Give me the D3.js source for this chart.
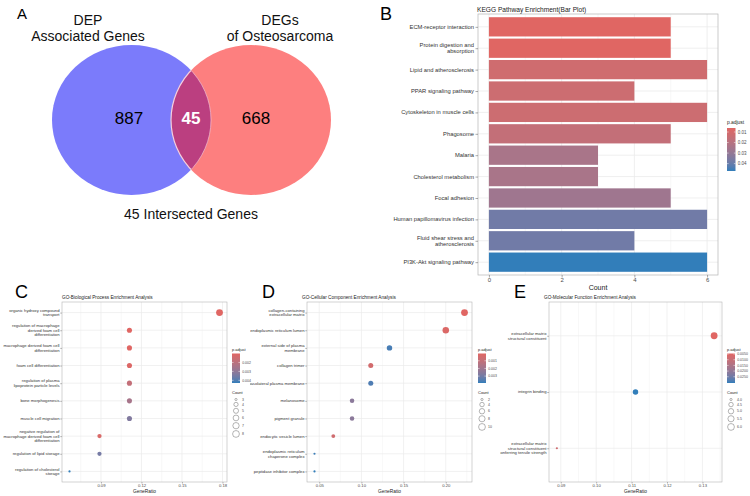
<!DOCTYPE html>
<html>
<head>
<meta charset="utf-8">
<script src="https://cdn.jsdelivr.net/npm/d3@7"></script>
<style>
  body { margin: 0; background: #fff; }
  svg text { font-family: "Liberation Sans", Arial, sans-serif; }
</style>
</head>
<body>
<svg id="fig" width="750" height="496"></svg>
<script>
/* ---------- data ---------- */
// Venn
var vennSets = ["DEP\nAssociated Genes", "DEGs\nof Osteosarcoma"];
var vennCounts = [887, 45, 668];
var vennCaption = "45 Intersected Genes";

// KEGG bar plot
var keggTerms = ["ECM-receptor interaction", "Protein digestion and\nabsorption", "Lipid and atherosclerosis",
  "PPAR signaling pathway", "Cytoskeleton in muscle cells", "Phagosome", "Malaria", "Cholesterol metabolism",
  "Focal adhesion", "Human papillomavirus infection", "Fluid shear stress and\natherosclerosis", "PI3K-Akt signaling pathway"];
var keggCount = [5, 5, 6, 4, 6, 5, 3, 3, 5, 6, 4, 6];
var keggPadj = [0.0062, 0.0063, 0.012, 0.013, 0.013, 0.016, 0.024, 0.024, 0.027, 0.038, 0.038, 0.047];
var keggTicks = [0, 2, 4, 6];
var keggLegendTicks = [0.01, 0.02, 0.03, 0.04];

// GO BP
var bpTerms = ["organic hydroxy compound\ntransport", "regulation of macrophage\nderived foam cell\ndifferentiation",
  "macrophage derived foam cell\ndifferentiation", "foam cell differentiation",
  "regulation of plasma\nlipoprotein particle levels", "bone morphogenesis", "muscle cell migration",
  "negative regulation of\nmacrophage derived foam cell\ndifferentiation", "regulation of lipid storage",
  "regulation of cholesterol\nstorage"];
var bpRatio = [0.1778, 0.1111, 0.1111, 0.1111, 0.1111, 0.1111, 0.1111, 0.0889, 0.0889, 0.0667];
var bpCount = [8, 5, 5, 5, 5, 5, 5, 4, 4, 3];
var bpPadj = [0.0010, 0.0010, 0.0010, 0.0011, 0.0018, 0.0025, 0.0033, 0.0012, 0.0035, 0.0043];
var bpTicks = [0.09, 0.12, 0.15, 0.18];
var bpLegendTicks = [0.002, 0.003, 0.004];
var bpCountBreaks = [3, 4, 5, 6, 7, 8];

// GO CC
var ccTerms = ["collagen-containing\nextracellular matrix", "endoplasmic reticulum lumen",
  "external side of plasma\nmembrane", "collagen trimer", "basolateral plasma membrane", "melanosome",
  "pigment granule", "endocytic vesicle lumen", "endoplasmic reticulum\nchaperone complex",
  "peptidase inhibitor complex"];
var ccRatio = [0.2222, 0.2000, 0.1333, 0.1111, 0.1111, 0.0889, 0.0889, 0.0667, 0.0444, 0.0444];
var ccCount = [10, 9, 6, 5, 5, 4, 4, 3, 2, 2];
var ccPadj = [0.00005, 0.0002, 0.0037, 0.0005, 0.0036, 0.0025, 0.0025, 0.0006, 0.0038, 0.0039];
var ccTicks = [0.05, 0.10, 0.15, 0.20];
var ccLegendTicks = [0.001, 0.002, 0.003];
var ccCountBreaks = [2, 4, 6, 8, 10];

// GO MF
var mfTerms = ["extracellular matrix\nstructural constituent", "integrin binding",
  "extracellular matrix\nstructural constituent\nconferring tensile strength"];
var mfRatio = [0.1333, 0.1111, 0.0889];
var mfCount = [6, 5, 4];
var mfPadj = [0.0045, 0.0305, 0.0085];
var mfTicks = [0.09, 0.10, 0.11, 0.12, 0.13];
var mfLegendTicks = [0.005, 0.010, 0.015, 0.020, 0.025];
var mfCountBreaks = [4.0, 4.5, 5.0, 5.5, 6.0];

/* ---------- common ---------- */
var svg = d3.select("#fig");
var defs = svg.append("defs");
var LOW = "#e06663", HIGH = "#327eba";
var gridCol = "#ebebeb", borderCol = "#b5b5b5", tickCol = "#555", labCol = "#4d4d4d";

function multiText(g, str, x, y, size, lh, anchor, fill, weight) {
  var lines = str.split("\n");
  var t = g.append("text").attr("x", x).attr("y", y)
    .attr("font-size", size).attr("text-anchor", anchor || "start")
    .attr("fill", fill || "#000");
  if (weight) t.attr("font-weight", weight);
  var off = -(lines.length - 1) * lh / 2 + size * 0.35;
  lines.forEach(function(l, i) {
    t.append("tspan").attr("x", x).attr("dy", i === 0 ? off : lh).text(l);
  });
  return t;
}

function panelLabel(txt, x, y) {
  svg.append("text").attr("x", x).attr("y", y).attr("font-size", 18).text(txt);
}

var gradN = 0;
function colorbar(color, dom, ticks, fmt, x, y0, y1, w, titleY, fs) {
  var id = "grad" + (gradN++);
  var grad = defs.append("linearGradient").attr("id", id)
    .attr("x1", 0).attr("x2", 0).attr("y1", 0).attr("y2", 1);
  d3.range(0, 1.0001, 0.1).forEach(function(f) {
    grad.append("stop").attr("offset", f).attr("stop-color", color(dom[0] + f * (dom[1] - dom[0])));
  });
  svg.append("text").attr("x", x).attr("y", titleY).attr("font-size", fs + 0.4).attr("fill", "#222").text("p.adjust");
  svg.append("rect").attr("x", x).attr("y", y0).attr("width", w).attr("height", y1 - y0).attr("fill", "url(#" + id + ")");
  var ys = d3.scaleLinear().domain(dom).range([y0, y1]);
  ticks.forEach(function(t) {
    var yy = ys(t);
    svg.append("line").attr("x1", x).attr("x2", x + 1.6).attr("y1", yy).attr("y2", yy).attr("stroke", "#fff").attr("stroke-width", 0.5);
    svg.append("line").attr("x1", x + w - 1.6).attr("x2", x + w).attr("y1", yy).attr("y2", yy).attr("stroke", "#fff").attr("stroke-width", 0.5);
    svg.append("text").attr("x", x + w + 2.2).attr("y", yy + fs * 0.35).attr("font-size", fs).attr("fill", labCol).text(fmt(t));
  });
}

/* ---------- A: Venn ---------- */
(function() {
  var g = svg.append("g");
  var blue = {cx: 131.5, cy: 120, rx: 79.5, ry: 75};
  var red = {cx: 251, cy: 120, rx: 80, ry: 75};
  defs.append("clipPath").attr("id", "clipBlue").append("ellipse")
    .attr("cx", blue.cx).attr("cy", blue.cy).attr("rx", blue.rx).attr("ry", blue.ry);
  defs.append("clipPath").attr("id", "clipRed").append("ellipse")
    .attr("cx", red.cx).attr("cy", red.cy).attr("rx", red.rx).attr("ry", red.ry);
  g.append("ellipse").attr("cx", blue.cx).attr("cy", blue.cy).attr("rx", blue.rx).attr("ry", blue.ry).attr("fill", "#7b7bfb");
  g.append("ellipse").attr("cx", red.cx).attr("cy", red.cy).attr("rx", red.rx).attr("ry", red.ry).attr("fill", "#fd7f7f");
  g.append("ellipse").attr("cx", red.cx).attr("cy", red.cy).attr("rx", red.rx).attr("ry", red.ry)
    .attr("clip-path", "url(#clipBlue)").attr("fill", "#bb3f80").attr("stroke", "#f3d0e0").attr("stroke-width", 1.2);
  g.append("ellipse").attr("cx", blue.cx).attr("cy", blue.cy).attr("rx", blue.rx).attr("ry", blue.ry)
    .attr("fill", "none").attr("stroke", "#f3d0e0").attr("stroke-width", 0.6).attr("clip-path", "url(#clipRed)");

  multiText(g, vennSets[0], 88, 28, 14, 15.5, "middle", "#111");
  multiText(g, vennSets[1], 280, 28, 14, 15.5, "middle", "#111");
  g.append("text").attr("x", 129).attr("y", 124).attr("font-size", 17).attr("text-anchor", "middle").text(vennCounts[0]);
  g.append("text").attr("x", 191).attr("y", 124).attr("font-size", 17).attr("font-weight", "bold")
    .attr("fill", "#fff").attr("text-anchor", "middle").text(vennCounts[1]);
  g.append("text").attr("x", 256).attr("y", 124).attr("font-size", 17).attr("text-anchor", "middle").text(vennCounts[2]);
  g.append("text").attr("x", 191).attr("y", 219).attr("font-size", 14).attr("text-anchor", "middle").attr("fill", "#111").text(vennCaption);
  svg.append("text").attr("x", 17).attr("y", 19).attr("font-size", 15).text("A");
})();

/* ---------- B: KEGG bars ---------- */
(function() {
  var L = 478, R = 718, T = 14, B = 275;
  var x = d3.scaleLinear().domain([-0.3, 6.3]).range([L, R]);
  var y = d3.scalePoint().domain(keggTerms).range([T, B]).padding(0.6);
  var color = d3.scaleLinear().domain(d3.extent(keggPadj)).range([LOW, HIGH]).interpolate(d3.interpolateLab);
  var g = svg.append("g");
  g.append("rect").attr("x", L).attr("y", T).attr("width", R - L).attr("height", B - T).attr("fill", "#fff");
  [1, 3, 5].forEach(function(v) {
    g.append("line").attr("x1", x(v)).attr("x2", x(v)).attr("y1", T).attr("y2", B).attr("stroke", gridCol).attr("stroke-width", 0.4);
  });
  keggTicks.forEach(function(v) {
    g.append("line").attr("x1", x(v)).attr("x2", x(v)).attr("y1", T).attr("y2", B).attr("stroke", gridCol).attr("stroke-width", 0.8);
  });
  keggTerms.forEach(function(t) {
    g.append("line").attr("x1", L).attr("x2", R).attr("y1", y(t)).attr("y2", y(t)).attr("stroke", gridCol).attr("stroke-width", 0.8);
  });
  var bh = y.step() * 0.9;
  g.selectAll("rect.bar").data(keggTerms).enter().append("rect").attr("class", "bar")
    .attr("x", x(0)).attr("y", function(d) { return y(d) - bh / 2; })
    .attr("width", function(d, i) { return x(keggCount[i]) - x(0); })
    .attr("height", bh)
    .attr("fill", function(d, i) { return color(keggPadj[i]); });
  g.append("rect").attr("x", L).attr("y", T).attr("width", R - L).attr("height", B - T)
    .attr("fill", "none").attr("stroke", borderCol).attr("stroke-width", 0.7);
  // axes
  var xa = g.append("g").attr("transform", "translate(0," + B + ")")
    .call(d3.axisBottom(x).tickValues(keggTicks).tickSize(2.5).tickFormat(d3.format("d")));
  xa.select(".domain").remove();
  xa.selectAll("line").attr("stroke", tickCol).attr("stroke-width", 0.5);
  xa.selectAll("text").attr("font-size", 6).attr("fill", labCol).attr("dy", "0.6em").attr("y", 3.5);
  var ya = g.append("g").attr("transform", "translate(" + L + ",0)")
    .call(d3.axisLeft(y).tickSize(2.5).tickFormat(""));
  ya.select(".domain").remove();
  ya.selectAll("line").attr("stroke", tickCol).attr("stroke-width", 0.5);
  keggTerms.forEach(function(t) { multiText(g, t, L - 4, y(t), 5.8, 6, "end", "#333"); });
  g.append("text").attr("x", (L + R) / 2).attr("y", 290).attr("font-size", 7).attr("text-anchor", "middle").attr("fill", "#222").text("Count");
  g.append("text").attr("x", 477).attr("y", 12).attr("font-size", 6.6).attr("fill", "#222").text("KEGG Pathway Enrichment(Bar Plot)");
  colorbar(color, d3.extent(keggPadj), keggLegendTicks, d3.format(".2f"), 727, 128, 171, 8.5, 124, 4.5);
  panelLabel("B", 380, 20);
})();

/* ---------- C/D/E: dot plots ---------- */
function dotPanel(c) {
  var L = c.L, R = c.R, T = 302, B = 482;
  var ext = d3.extent(c.ratio), pad = (ext[1] - ext[0]) * 0.05;
  var x = d3.scaleLinear().domain([ext[0] - pad, ext[1] + pad]).range([L, R]);
  var y = d3.scalePoint().domain(c.terms).range([T, B]).padding(0.6);
  var pdom = d3.extent(c.padj);
  var color = d3.scaleLinear().domain(pdom).range([LOW, HIGH]).interpolate(d3.interpolateLab);
  var cext = d3.extent(c.count);
  var unit = d3.scaleLinear().domain(cext).range([0, 1]);
  var rr = d3.scaleLinear().domain([0, 1]).range([1.1, 3.4]);
  var rad = function(v) { return rr(Math.sqrt(Math.max(0, unit(v)))); };

  // each sub-figure is cut at its own left edge, like in the source image
  var clipId = "clip" + c.label;
  defs.append("clipPath").attr("id", clipId).append("rect")
    .attr("x", c.clipX).attr("y", 280).attr("width", 750 - c.clipX).attr("height", 216);
  var g = svg.append("g").attr("clip-path", "url(#" + clipId + ")");
  g.append("rect").attr("x", L).attr("y", T).attr("width", R - L).attr("height", B - T).attr("fill", "#fff");
  var step = c.ticks[1] - c.ticks[0];
  var minors = c.ticks.map(function(t) { return t - step / 2; }).concat([c.ticks[c.ticks.length - 1] + step / 2])
    .filter(function(v) { return x(v) > L && x(v) < R; });
  minors.forEach(function(v) {
    g.append("line").attr("x1", x(v)).attr("x2", x(v)).attr("y1", T).attr("y2", B).attr("stroke", gridCol).attr("stroke-width", 0.35);
  });
  c.ticks.forEach(function(v) {
    g.append("line").attr("x1", x(v)).attr("x2", x(v)).attr("y1", T).attr("y2", B).attr("stroke", gridCol).attr("stroke-width", 0.7);
  });
  c.terms.forEach(function(t) {
    g.append("line").attr("x1", L).attr("x2", R).attr("y1", y(t)).attr("y2", y(t)).attr("stroke", gridCol).attr("stroke-width", 0.7);
  });
  g.selectAll("circle.pt").data(c.terms).enter().append("circle").attr("class", "pt")
    .attr("cx", function(d, i) { return x(c.ratio[i]); })
    .attr("cy", function(d) { return y(d); })
    .attr("r", function(d, i) { return rad(c.count[i]); })
    .attr("fill", function(d, i) { return color(c.padj[i]); });
  g.append("rect").attr("x", L).attr("y", T).attr("width", R - L).attr("height", B - T)
    .attr("fill", "none").attr("stroke", borderCol).attr("stroke-width", 0.6);

  var xa = g.append("g").attr("transform", "translate(0," + B + ")")
    .call(d3.axisBottom(x).tickValues(c.ticks).tickSize(1.6).tickFormat(c.fmt));
  xa.select(".domain").remove();
  xa.selectAll("line").attr("stroke", tickCol).attr("stroke-width", 0.4);
  xa.selectAll("text").attr("font-size", 4.2).attr("fill", labCol).attr("y", 1.8).attr("dy", "0.65em");
  var ya = g.append("g").attr("transform", "translate(" + L + ",0)")
    .call(d3.axisLeft(y).tickSize(1.8).tickFormat(""));
  ya.select(".domain").remove();
  ya.selectAll("line").attr("stroke", tickCol).attr("stroke-width", 0.4);
  c.terms.forEach(function(t) { multiText(g, t, L - 2.5, y(t), 4.2, 4.7, "end", "#333"); });
  g.append("text").attr("x", (L + R) / 2).attr("y", 493).attr("font-size", 4.8).attr("text-anchor", "middle").attr("fill", "#222").text("GeneRatio");
  g.append("text").attr("x", c.titleX).attr("y", 298.5).attr("font-size", 4.7).attr("fill", "#222").text(c.title);

  // legends
  var lx = c.legX;
  colorbar(color, pdom, c.legTicks, c.legFmt, lx, 353.5, 383, 8, 350.5, 3.5);
  svg.append("text").attr("x", lx).attr("y", 394).attr("font-size", 4).attr("fill", "#222").text("Count");
  var cy = 399.5;
  c.breaks.forEach(function(b, i) {
    var r = rad(b);
    if (i > 0) cy += rad(c.breaks[i - 1]) + r + 1.7;
    svg.append("circle").attr("cx", lx + 4).attr("cy", cy).attr("r", r)
      .attr("fill", "none").attr("stroke", "#444").attr("stroke-width", 0.4);
    svg.append("text").attr("x", lx + 10).attr("y", cy + 1.2).attr("font-size", 3.5).attr("fill", labCol).text(c.breakFmt(b));
  });
  panelLabel(c.label, c.labelX, 298);
}

dotPanel({label: "C", labelX: 15, clipX: 0, terms: bpTerms, ratio: bpRatio, count: bpCount, padj: bpPadj,
  ticks: bpTicks, fmt: d3.format(".2f"), L: 62, R: 227, titleX: 62,
  title: "GO-Biological Process Enrichment Analysis", legX: 232, legTicks: bpLegendTicks,
  legFmt: d3.format(".3f"), breaks: bpCountBreaks, breakFmt: d3.format("d")});

dotPanel({label: "D", labelX: 262, clipX: 250, terms: ccTerms, ratio: ccRatio, count: ccCount, padj: ccPadj,
  ticks: ccTicks, fmt: d3.format(".2f"), L: 307, R: 472, titleX: 302,
  title: "GO-Cellular Component Enrichment Analysis", legX: 478, legTicks: ccLegendTicks,
  legFmt: d3.format(".3f"), breaks: ccCountBreaks, breakFmt: d3.format("d")});

dotPanel({label: "E", labelX: 514, clipX: 500, terms: mfTerms, ratio: mfRatio, count: mfCount, padj: mfPadj,
  ticks: mfTicks, fmt: d3.format(".2f"), L: 549, R: 722, titleX: 544,
  title: "GO-Molecular Function Enrichment Analysis", legX: 727, legTicks: mfLegendTicks,
  legFmt: d3.format(".4f"), breaks: mfCountBreaks, breakFmt: d3.format(".1f")});
</script>
</body>
</html>
